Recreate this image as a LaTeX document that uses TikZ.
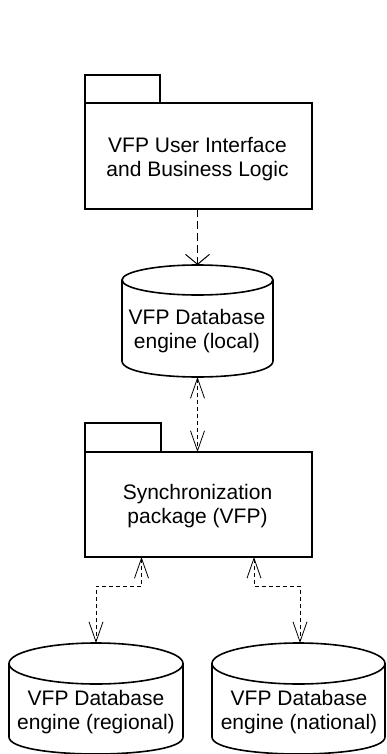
\documentclass[tikz,border=0pt]{standalone}
\usepackage{fontspec}
\setmainfont{Liberation Sans}
\usetikzlibrary{arrows.meta}
\begin{document}
\begin{tikzpicture}[x=1pt,y=-1pt,
  box/.style={draw, line width=1.6pt, minimum width=227pt, inner sep=0pt, outer sep=0pt},
  outl/.style={draw, line width=1.6pt},
  lbl/.style={font=\fontsize{21}{24}\selectfont, align=center, anchor=base, inner sep=0pt},
  dep/.style={line width=1pt, dash pattern=on 8pt off 4pt, -{Straight Barb[length=10pt,width=24pt]}},
  bidir/.style={line width=0.8pt, dash pattern=on 4pt off 3pt,
    {Straight Barb[length=20pt,width=14pt]}-{Straight Barb[length=20pt,width=14pt]}}]
\clip (0,0) rectangle (387,754);

% Package 1
\node[box, minimum height=106pt] (p1) at (198.5,156) {};
\draw[outl] (p1.north west) -- ++(0,-28) -| (160,103);
\node[lbl] (t1) at (197.5,176) {VFP User Interface\\and Business Logic};

% Cylinder 1 (local)
\draw[outl] (197.5,280) ellipse [x radius=75.5pt, y radius=15pt];
\draw[outl] (122,280) -- (122,361) .. controls (122,382.33) and (273,382.33) .. (273,361) -- (273,280);
\coordinate (c1top) at (197.5,265);
\coordinate (c1bot) at (197.5,377);
\node[lbl] (t2) at (197,348.5) {VFP Database\\engine (local)};

% Package 2
\node[box, minimum height=105pt] (p2) at (198.5,504.5) {};
\draw[outl] (p2.north west) -- ++(0,-29) -| (161,452);
\node[lbl] (t3) at (197.5,523) {Synchronization\\package (VFP)};

% Cylinder regional
\draw[outl] (96,663.5) ellipse [x radius=87pt, y radius=20.5pt];
\draw[outl] (9,663.5) -- (9,737) .. controls (9,759.67) and (183,759.67) .. (183,737) -- (183,663.5);
\coordinate (rtop) at (96,643);
\node[lbl] (t4) at (96,729) {VFP Database\\engine (regional)};

% Cylinder national
\draw[outl] (298.5,663.5) ellipse [x radius=86.5pt, y radius=20.5pt];
\draw[outl] (212,663.5) -- (212,737) .. controls (212,759.67) and (385,759.67) .. (385,737) -- (385,663.5);
\coordinate (ntop) at (300,643);
\node[lbl] (t5) at (299,729) {VFP Database\\engine (national)};

% Connectors
\coordinate (p2l) at (141.5,557);
\coordinate (p2r) at (254,557);
\draw[dep] (c1top |- p1.south) -- (c1top);
\draw[bidir] (c1bot) -- (c1bot |- p2.north);
\draw[bidir] (p2l) -- ++(0,29) -| (rtop);
\draw[bidir] (p2r) -- ++(0,29) -| (ntop);
\end{tikzpicture}
\end{document}
